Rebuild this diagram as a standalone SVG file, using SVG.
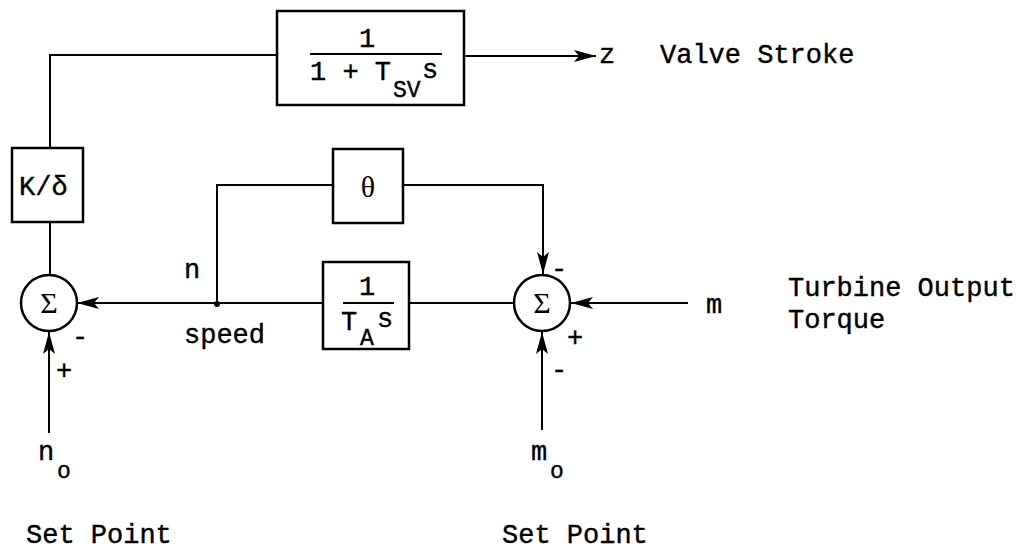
<svg xmlns="http://www.w3.org/2000/svg" width="1025" height="553" viewBox="0 0 1025 553">
<style>
.box{fill:#fff;stroke:#000;stroke-width:2.5}
.ln{fill:none;stroke:#000;stroke-width:2}
.t{font-family:"Liberation Mono","Courier New",monospace;font-size:27px;fill:#000;stroke:#000;stroke-width:0.4}
.s{font-family:"Liberation Mono","Courier New",monospace;font-size:23px;fill:#000;stroke:#000;stroke-width:0.4}
.g{font-family:"Liberation Serif","DejaVu Serif",serif;font-size:30px;fill:#000}
</style>
<defs>
<marker id="ah" markerUnits="userSpaceOnUse" markerWidth="26" markerHeight="16" refX="22" refY="7" orient="auto" overflow="visible">
<path d="M0,1 L5,7 L0,13 L22,7 Z" fill="#000"/>
</marker>
</defs>
<rect width="1025" height="553" fill="#fff"/>
<g id="connectors">
<path class="ln" d="M50,148 V55 H277"/>
<path class="ln" d="M464,56 H596" marker-end="url(#ah)"/>
<path class="ln" d="M50,222 V275"/>
<path class="ln" d="M217,303 H77" marker-end="url(#ah)"/>
<path class="ln" d="M323,303 H217"/>
<path class="ln" d="M217,303 V185 H333"/>
<path class="ln" d="M403,185 H543 V274" marker-end="url(#ah)"/>
<path class="ln" d="M409,303 H514"/>
<path class="ln" d="M688,303 H571" marker-end="url(#ah)"/>
<path class="ln" d="M542,430 V332" marker-end="url(#ah)"/>
<path class="ln" d="M49,433 V332" marker-end="url(#ah)"/>
<circle cx="217" cy="304" r="3" fill="#000"/>
</g>
<g id="valve">
<rect class="box" x="277" y="11" width="187" height="94"/>
<text class="t" x="359" y="47">1</text>
<line class="ln" x1="310" y1="54" x2="442" y2="54"/>
<text class="t" x="310" y="80">1 + T</text>
<text class="s" x="393" y="97">SV</text>
<text class="t" x="422" y="78">s</text>
</g>
<g id="gain">
<rect class="box" x="12" y="148" width="71" height="74"/>
<text class="t" x="19" y="195">K/δ</text>
</g>
<g id="theta">
<rect class="box" x="333" y="149" width="70" height="74"/>
<text class="g" x="368" y="197" text-anchor="middle">θ</text>
</g>
<g id="inertia">
<rect class="box" x="323" y="262" width="86" height="87"/>
<text class="t" x="359" y="295">1</text>
<line class="ln" x1="343" y1="303" x2="394" y2="303"/>
<text class="t" x="341" y="330">T</text>
<text class="s" x="360" y="345">A</text>
<text class="t" x="377" y="327">s</text>
</g>
<g id="sum1">
<circle cx="49" cy="303" r="28" fill="#fff" stroke="#000" stroke-width="2.5"/>
<text class="g" x="49" y="313" text-anchor="middle">Σ</text>
<text class="t" x="72" y="345">-</text>
<text class="t" x="56" y="379">+</text>
</g>
<g id="sum2">
<circle cx="542" cy="303" r="28" fill="#fff" stroke="#000" stroke-width="2.5"/>
<text class="g" x="542" y="313" text-anchor="middle">Σ</text>
<text class="t" x="551" y="277">-</text>
<text class="t" x="567" y="346">+</text>
<text class="t" x="551" y="378">-</text>
</g>
<g id="labels">
<text class="t" x="599" y="63">z</text>
<text class="t" x="660" y="63">Valve Stroke</text>
<text class="t" x="184" y="278">n</text>
<text class="t" x="184" y="343">speed</text>
<text class="t" x="706" y="313">m</text>
<text class="t" x="788" y="296">Turbine Output</text>
<text class="t" x="788" y="328">Torque</text>
<text class="t" x="38" y="460">n</text>
<text class="s" x="57" y="478">o</text>
<text class="t" x="531" y="460">m</text>
<text class="s" x="550" y="478">o</text>
<text class="t" x="26" y="543">Set Point</text>
<text class="t" x="502" y="543">Set Point</text>
</g>
</svg>
